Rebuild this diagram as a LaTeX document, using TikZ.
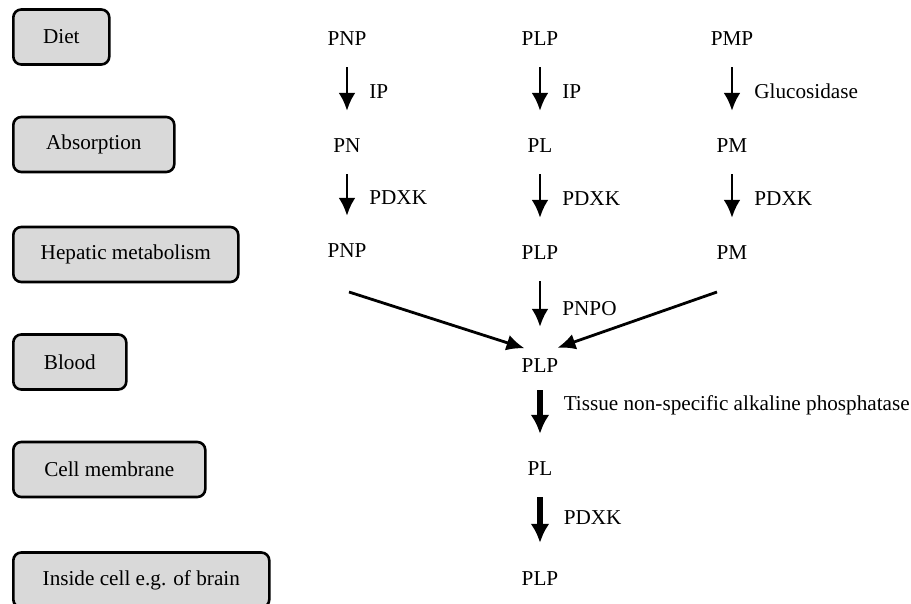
\documentclass[tikz,border=0pt]{standalone}
\usepackage{fontspec}
\setmainfont{Liberation Serif}
\usetikzlibrary{arrows.meta, calc, positioning}
\definecolor{stagegray}{HTML}{D9D9D9}

\begin{document}
\begin{tikzpicture}[x=1pt,y=-1pt]
  \tikzset{>=latex}
  \tikzset{
    txt/.style={font=\fontsize{21.2pt}{25pt}\selectfont},
    stage/.style={txt,draw=black,line width=2.6pt,fill=stagegray,rounded corners=8pt,
      minimum height=55pt,anchor=west,inner sep=0pt},
    mol/.style={txt,inner sep=0pt,text height=14pt,text depth=0pt},
    enz/.style={txt,anchor=west,inner sep=0pt,xshift=21pt},
    conv/.style={-{Latex[length=18pt,width=17pt]},line width=2.8pt,shorten <=22pt,shorten >=27pt},
    bigconv/.style={conv,line width=5.5pt,-{Latex[length=19pt,width=19pt]}},
    slant/.style={-{Latex[length=18pt,width=16pt]},line width=2.8pt}
  }
  \def\xa{347}
  \def\xb{540}
  \def\xc{732}
  \useasboundingbox (0,0) rectangle (911,603);

  \node[stage,minimum width=96pt]  (diet)  at (12,37)    {Diet};
  \node[stage,minimum width=161pt] (absor) at (12,144.5) {Absorption};
  \node[stage,minimum width=225pt] (hepat) at (12,254.5) {Hepatic metabolism};
  \node[stage,minimum width=113pt] (blood) at (12,362)   {Blood};
  \node[stage,minimum width=192pt] (membr) at (12,469.5) {Cell membrane};
  \node[stage,minimum width=256pt] (cell)  at (12,580)   {Inside cell e.g. of brain};

  \node[mol] (pnpd) at (\xa,38)  {PNP};
  \node[mol] (plpd) at (\xb,38)  {PLP};
  \node[mol] (pmpd) at (\xc,38)  {PMP};
  \node[mol] (pna)  at (\xa,145) {PN};
  \node[mol] (pla)  at (\xb,145) {PL};
  \node[mol] (pma)  at (\xc,145) {PM};
  \node[mol] (pnph) at (\xa,250) {PNP};
  \node[mol] (plph) at (\xb,252) {PLP};
  \node[mol] (pmh)  at (\xc,252) {PM};
  \node[mol] (plpb) at (\xb,365) {PLP};
  \node[mol] (plm)  at (\xb,468) {PL};
  \node[mol] (plpc) at (\xb,578) {PLP};

  \draw[conv] (pnpd) -- (pna) node[enz,midway] (ipa) {IP};
  \draw[conv] (plpd) -- (pla) node[enz,midway] (ipb) {IP};
  \draw[conv] (pmpd) -- (pma) node[enz,midway] (gluc) {Glucosidase};
  \draw[conv] (pna) -- (pnph) node[enz,midway] (pdxka) {PDXK};
  \draw[conv] (pla) -- (plph) node[enz,midway] (pdxkb) {PDXK};
  \draw[conv] (pma) -- (pmh) node[enz,midway] (pdxkc) {PDXK};
  \draw[conv,shorten >=31pt] (plph) -- (plpb) node[enz,midway] (pnpo) {PNPO};

  \coordinate (lfrom) at (349,292);
  \coordinate (rfrom) at (717,292);
  \draw[slant] (lfrom) -- ($(plpb.north west)+(3,-9.5)$);
  \draw[slant] (rfrom) -- ($(plpb.north east)+(-1,-10)$);

  \draw[bigconv,shorten <=18pt] (plpb) -- (plm) node[enz,pos=0.37] (tnap) {Tissue non-specific alkaline phosphatase};
  \draw[bigconv,shorten >=28pt] (plm) -- (plpc) node[enz,pos=0.44] (pdxkd) {PDXK};
\end{tikzpicture}
\end{document}
